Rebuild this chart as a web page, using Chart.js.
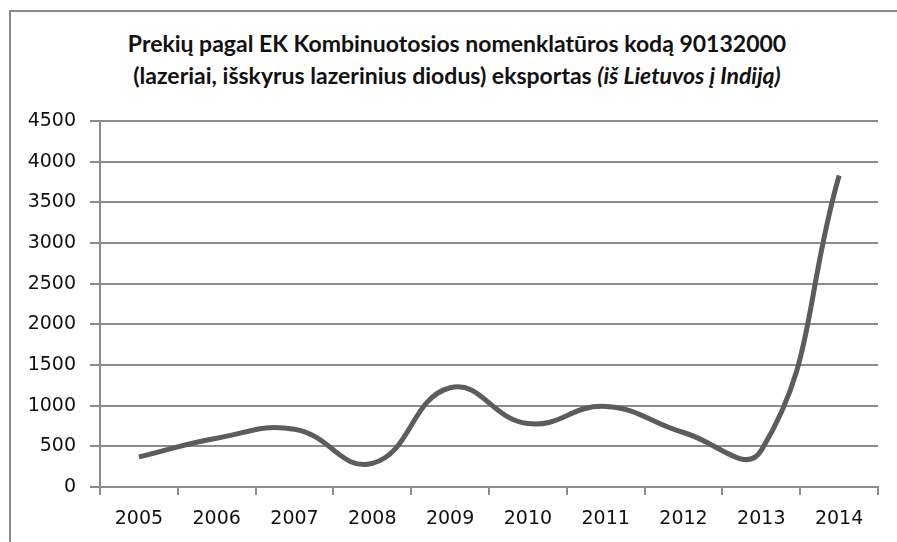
<!DOCTYPE html>
<html>
<head>
    <title>Eksportas</title>
    <script src="https://cdn.jsdelivr.net/npm/chart.js"></script>
    <style>
        body { margin: 0; background: #fff; }
        #wrap { position: relative; width: 897px; height: 542px; overflow: hidden; }
        #frame { position: absolute; left: 9px; top: 10px; width: 900px; height: 540px;
                 border-left: 2px solid #8a8a8a; border-top: 2px solid #8a8a8a; }
        #title { position: absolute; left: 0; top: 27px; width: 914px; text-align: center;
                 font-family: Lato, sans-serif; font-weight: bold; font-size: 23px; line-height: 32px; color: #111; }
        canvas { position: absolute; left: 0; top: 0; }
    </style>
</head>
<body>
<div id="wrap">
    <div id="frame"></div>
    <div id="title">Prekių pagal EK Kombinuotosios nomenklatūros kodą 90132000<br>(lazeriai, išskyrus lazerinius diodus) eksportas <i>(iš Lietuvos į Indiją)</i></div>
    <canvas id="exportChart" width="897" height="542"></canvas>
</div>

<script>
    const years = ['2005', '2006', '2007', '2008', '2009', '2010', '2011', '2012', '2013', '2014'];
    const exportValues = [370, 600, 710, 290, 1220, 780, 990, 670, 450, 3830];
    const yMin = 0, yMax = 4500, yStep = 500;

    const ctx = document.getElementById('exportChart').getContext('2d');
    new Chart(ctx, {
        type: 'line',
        data: {
            labels: years,
            datasets: [{
                data: exportValues,
                borderColor: '#5c5c5c',
                borderWidth: 5,
                tension: 0.45,
                pointRadius: 0,
                fill: false
            }]
        },
        options: {
            responsive: false,
            animation: false,
            layout: { padding: { top: 121, right: 19, left: 0, bottom: 0 } },
            plugins: { legend: { display: false }, tooltip: { enabled: false }, title: { display: false } },
            scales: {
                x: {
                    offset: true,
                    grid: { offset: true, drawOnChartArea: false, drawTicks: true, tickLength: 8, color: '#8c8c8c', lineWidth: 2 },
                    border: { color: '#8c8c8c', width: 2 },
                    ticks: { color: '#111', padding: 13, maxRotation: 0, font: { family: 'DejaVu Sans', size: 19 } },
                    afterFit: s => { s.height = 55; }
                },
                y: {
                    min: yMin, max: yMax,
                    grid: { color: '#8c8c8c', lineWidth: 2, tickLength: 10 },
                    border: { color: '#8c8c8c', width: 2 },
                    ticks: { stepSize: yStep, color: '#111', padding: 14, font: { family: 'DejaVu Sans', size: 19 },
                             callback: v => String(v) },
                    afterFit: s => { s.width = 100; }
                }
            }
        }
    });
</script>
</body>
</html>
